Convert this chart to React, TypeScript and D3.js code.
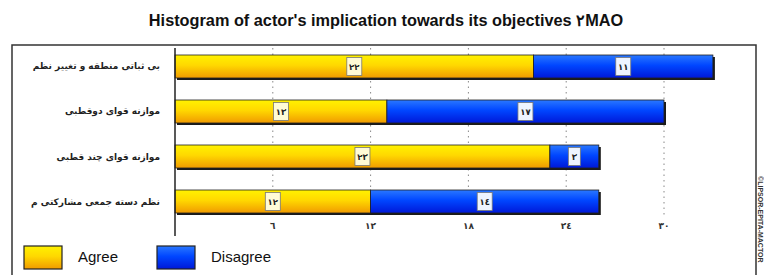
import React, { useRef, useEffect } from "react";
import * as d3 from "d3";

const categories = [
  "بی ثباتی منطقه و تغییر نظم",
  "موازنه قوای دوقطبی",
  "موازنه قوای چند قطبی",
  "نظم دسته جمعی مشارکتی م",
];
const agree = [22, 13, 23, 12];
const disagree = [11, 17, 3, 14];
const ticks = [6, 12, 18, 24, 30];
const seriesNames = ["Agree", "Disagree"];

const toArabic = (n: number) =>
  String(n).replace(/[0-9]/g, (c) => "٠١٢٣٤٥٦٧٨٩"[+c]);

const App = () => {
  const chartRef = useRef<SVGSVGElement>(null);

  useEffect(() => {
    const width = 764;
    const height = 275;
    const svg = d3.select(chartRef.current);
    svg.selectAll("*").remove();

    const defs = svg.append("defs");
    const yellow = defs
      .append("linearGradient")
      .attr("id", "gYellow")
      .attr("x1", 0).attr("y1", 0).attr("x2", 0).attr("y2", 1);
    yellow.append("stop").attr("offset", "0%").attr("stop-color", "#fff200");
    yellow.append("stop").attr("offset", "45%").attr("stop-color", "#ffd800");
    yellow.append("stop").attr("offset", "100%").attr("stop-color", "#f09a00");
    const blue = defs
      .append("linearGradient")
      .attr("id", "gBlue")
      .attr("x1", 0).attr("y1", 0).attr("x2", 0).attr("y2", 1);
    blue.append("stop").attr("offset", "0%").attr("stop-color", "#2a78ff");
    blue.append("stop").attr("offset", "45%").attr("stop-color", "#0046ff");
    blue.append("stop").attr("offset", "100%").attr("stop-color", "#0018d8");

    svg.append("rect").attr("width", width).attr("height", height).attr("fill", "#fff");

    // title
    svg
      .append("text")
      .attr("x", 386)
      .attr("y", 26)
      .attr("text-anchor", "middle")
      .attr("font-family", "Liberation Sans, Arial, sans-serif")
      .attr("font-weight", "bold")
      .attr("font-size", 16.3)
      .attr("fill", "#111")
      .text("Histogram of actor's implication towards its objectives ۲MAO");

    // frame
    svg
      .append("path")
      .attr("d", "M12,280 L12,45 L756,45 L756,280")
      .attr("fill", "none")
      .attr("stroke", "#333")
      .attr("stroke-width", 1.5);

    const x = d3.scaleLinear().domain([0, 30]).range([175, 664]);
    const y = d3
      .scaleBand()
      .domain(categories)
      .range([44, 224])
      .paddingInner(0.4889)
      .paddingOuter(0.2444);

    // grid
    svg
      .selectAll(".grid")
      .data(ticks)
      .enter()
      .append("line")
      .attr("x1", (d) => x(d))
      .attr("x2", (d) => x(d))
      .attr("y1", 48)
      .attr("y2", 218)
      .attr("stroke", "#888")
      .attr("stroke-width", 1)
      .attr("stroke-dasharray", "1.5,4");

    svg
      .selectAll(".tick")
      .data(ticks)
      .enter()
      .append("text")
      .attr("x", (d) => x(d))
      .attr("y", 229)
      .attr("text-anchor", "middle")
      .attr("font-family", "DejaVu Sans, sans-serif")
      .attr("font-weight", "bold")
      .attr("font-size", 9)
      .attr("fill", "#333")
      .text((d) => toArabic(d));

    const bh = y.bandwidth();
    const rows = categories.map((c, i) => ({ c, a: agree[i], d: disagree[i] }));

    // shadows
    svg
      .selectAll(".shadow")
      .data(rows)
      .enter()
      .append("rect")
      .attr("x", x(0) + 2)
      .attr("y", (d) => y(d.c)! + 2)
      .attr("width", (d) => x(d.a + d.d) - x(0))
      .attr("height", bh)
      .attr("fill", "#1a1a1a");

    svg
      .selectAll(".agree")
      .data(rows)
      .enter()
      .append("rect")
      .attr("x", x(0))
      .attr("y", (d) => y(d.c)!)
      .attr("width", (d) => x(d.a) - x(0))
      .attr("height", bh)
      .attr("fill", "url(#gYellow)")
      .attr("stroke", "#222")
      .attr("stroke-width", 0.8);

    svg
      .selectAll(".disagree")
      .data(rows)
      .enter()
      .append("rect")
      .attr("x", (d) => x(d.a))
      .attr("y", (d) => y(d.c)!)
      .attr("width", (d) => x(d.a + d.d) - x(d.a))
      .attr("height", bh)
      .attr("fill", "url(#gBlue)")
      .attr("stroke", "#222")
      .attr("stroke-width", 0.8);

    // value boxes
    const labels = rows.flatMap((r) => [
      { c: r.c, v: r.a, mid: r.a / 2, fill: "#fffbd6" },
      { c: r.c, v: r.d, mid: r.a + r.d / 2, fill: "#eef4ff" },
    ]);
    const lg = svg
      .selectAll(".lbl")
      .data(labels)
      .enter()
      .append("g")
      .attr("transform", (d) => `translate(${x(d.mid)},${y(d.c)! + bh / 2})`);
    lg.append("rect")
      .attr("x", (d) => (d.v < 10 ? -6 : -7.5))
      .attr("y", -9)
      .attr("width", (d) => (d.v < 10 ? 12 : 15))
      .attr("height", 18)
      .attr("fill", (d) => d.fill)
      .attr("stroke", "#777")
      .attr("stroke-width", 0.8);
    lg.append("text")
      .attr("y", 3.5)
      .attr("text-anchor", "middle")
      .attr("font-family", "DejaVu Sans, sans-serif")
      .attr("font-weight", "bold")
      .attr("font-size", 8.5)
      .attr("fill", "#222")
      .text((d) => toArabic(d.v));

    // axis line
    svg
      .append("line")
      .attr("x1", x(0))
      .attr("x2", x(0))
      .attr("y1", 48)
      .attr("y2", 236)
      .attr("stroke", "#222")
      .attr("stroke-width", 1.5);

    // category labels
    svg
      .selectAll(".cat")
      .data(categories)
      .enter()
      .append("text")
      .attr("x", 160)
      .attr("y", (d) => y(d)! + bh / 2 + 3)
      .attr("text-anchor", "end")
      .attr("font-family", "DejaVu Sans, sans-serif")
      .attr("font-weight", "bold")
      .attr("font-size", 9)
      .attr("fill", "#222")
      .text((d) => d);

    // legend
    const legend = svg
      .selectAll(".legend")
      .data(seriesNames)
      .enter()
      .append("g")
      .attr("transform", (d, i) => `translate(${24 + i * 133},246)`);
    legend
      .append("rect")
      .attr("width", 38)
      .attr("height", 23)
      .attr("fill", (d, i) => (i === 0 ? "url(#gYellow)" : "url(#gBlue)"))
      .attr("stroke", "#222")
      .attr("stroke-width", 1.2);
    legend
      .append("text")
      .attr("x", 54)
      .attr("y", 16)
      .attr("font-family", "Liberation Sans, Arial, sans-serif")
      .attr("font-size", 15)
      .attr("fill", "#111")
      .text((d) => d);

    // copyright
    svg
      .append("text")
      .attr("transform", "translate(757.5,176) rotate(90)")
      .attr("font-family", "Liberation Sans, Arial, sans-serif")
      .attr("font-weight", "bold")
      .attr("font-size", 7)
      .attr("fill", "#333")
      .text("©LIPSOR-EPITA-MACTOR");
  }, []);

  return (
    <svg
      ref={chartRef}
      width={764}
      height={275}
      style={{ position: "absolute", left: 0, top: 0, display: "block" }}
    />
  );
};

export default App;
